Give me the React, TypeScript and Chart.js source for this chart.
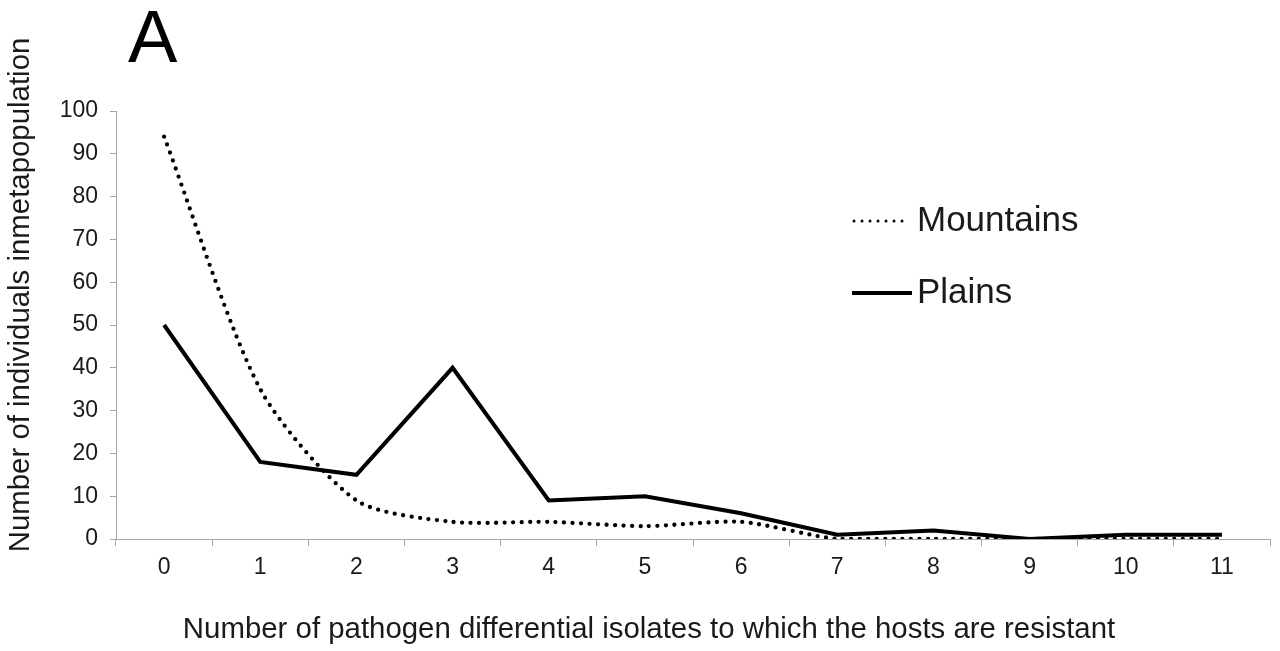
import React, { useEffect, useRef } from "react";
import { Chart, registerables } from "chart.js";

Chart.register(...registerables);

const categories = ["0", "1", "2", "3", "4", "5", "6", "7", "8", "9", "10", "11"];
const mountains = [94, 35, 9, 4, 4, 3, 4, 0, 0, 0, 0, 0];
const plains = [50, 18, 15, 40, 9, 10, 6, 1, 2, 0, 1, 1];
const seriesNames = ["Mountains", "Plains"];
const yTicksMax = 100;
const yStep = 10;
const xTitle = "Number of pathogen differential isolates to which the hosts are resistant";
const yTitle = "Number of individuals inmetapopulation";
const panelLabel = "A";

const FONT = "'Liberation Sans', Arial, Helvetica, sans-serif";
const AXIS_GRAY = "#a6a6a6";
const TEXT = "#1a1a1a";

const legendPlugin = {
  id: "insideLegend",
  afterDraw(chart: any) {
    const ctx = chart.ctx;
    const rows = [
      { y: 221, x0: 852, x1: 909 },
      { y: 293, x0: 852, x1: 912 },
    ];
    chart.data.datasets.forEach((ds: any, i: number) => {
      const r = rows[i];
      if (!r) return;
      ctx.save();
      ctx.strokeStyle = ds.borderColor;
      ctx.lineWidth = i === 0 ? 3 : 4;
      ctx.lineCap = i === 0 ? "round" : "butt";
      ctx.setLineDash(i === 0 ? [0, 8] : []);
      ctx.beginPath();
      ctx.moveTo(r.x0 + (i === 0 ? 2 : 0), r.y);
      ctx.lineTo(r.x1, r.y);
      ctx.stroke();
      ctx.setLineDash([]);
      ctx.fillStyle = TEXT;
      ctx.font = `35px ${FONT}`;
      ctx.textBaseline = "middle";
      ctx.textAlign = "left";
      ctx.fillText(ds.label, 917, r.y);
      ctx.restore();
    });
  },
};

const axisTitlePlugin = {
  id: "axisTitles",
  afterDraw(chart: any) {
    const ctx = chart.ctx;
    ctx.save();
    ctx.fillStyle = TEXT;
    ctx.font = `29.4px ${FONT}`;
    ctx.textAlign = "center";
    ctx.textBaseline = "middle";
    ctx.fillText(xTitle, 649, 630);
    ctx.translate(21, 295);
    ctx.rotate(-Math.PI / 2);
    ctx.fillText(yTitle, 0, 0);
    ctx.restore();
  },
};

export default function App() {
  const ref = useRef<HTMLCanvasElement | null>(null);

  useEffect(() => {
    if (!ref.current) return;
    const chart = new Chart(ref.current, {
      type: "line",
      data: {
        labels: categories,
        datasets: [
          {
            label: seriesNames[0],
            data: mountains,
            borderColor: "#000000",
            borderWidth: 4.3,
            borderDash: [0, 8.5],
            borderCapStyle: "round",
            tension: 0.25,
            pointRadius: 0,
            fill: false,
          },
          {
            label: seriesNames[1],
            data: plains,
            borderColor: "#000000",
            borderWidth: 4,
            tension: 0,
            pointRadius: 0,
            borderJoinStyle: "miter",
            fill: false,
          },
        ],
      },
      options: {
        responsive: false,
        animation: false,
        layout: { padding: { top: 111, right: 10, bottom: 0, left: 0 } },
        plugins: {
          legend: { display: false },
          tooltip: { enabled: false },
          title: { display: false },
        },
        scales: {
          x: {
            type: "category",
            offset: true,
            border: { display: true, color: AXIS_GRAY, width: 1 },
            grid: {
              display: true,
              offset: true,
              drawOnChartArea: false,
              drawTicks: true,
              tickLength: 7,
              color: AXIS_GRAY,
            },
            ticks: {
              color: TEXT,
              padding: 8,
              maxRotation: 0,
              font: { family: FONT, size: 23 },
            },
            title: { display: false, text: xTitle },
            afterFit: (scale: any) => {
              scale.height = 112;
            },
          },
          y: {
            min: 0,
            max: yTicksMax,
            border: { display: true, color: AXIS_GRAY, width: 1 },
            grid: {
              display: true,
              drawOnChartArea: false,
              drawTicks: true,
              tickLength: 6,
              color: AXIS_GRAY,
            },
            ticks: {
              stepSize: yStep,
              color: TEXT,
              padding: 12,
              font: { family: FONT, size: 23 },
            },
            title: { display: false, text: yTitle },
            afterFit: (scale: any) => {
              scale.width = 116;
            },
          },
        },
      },
      plugins: [legendPlugin, axisTitlePlugin],
    } as any);
    return () => chart.destroy();
  }, []);

  return (
    <div
      style={{
        position: "fixed",
        left: 0,
        top: 0,
        width: 1280,
        height: 651,
        background: "#ffffff",
        overflow: "hidden",
      }}
    >
      <canvas ref={ref} width={1280} height={651} style={{ display: "block" }} />
      <div
        style={{
          position: "absolute",
          left: 128,
          top: -5,
          fontFamily: FONT,
          fontSize: 74,
          lineHeight: "84px",
          color: "#000",
        }}
      >
        {panelLabel}
      </div>
    </div>
  );
}
